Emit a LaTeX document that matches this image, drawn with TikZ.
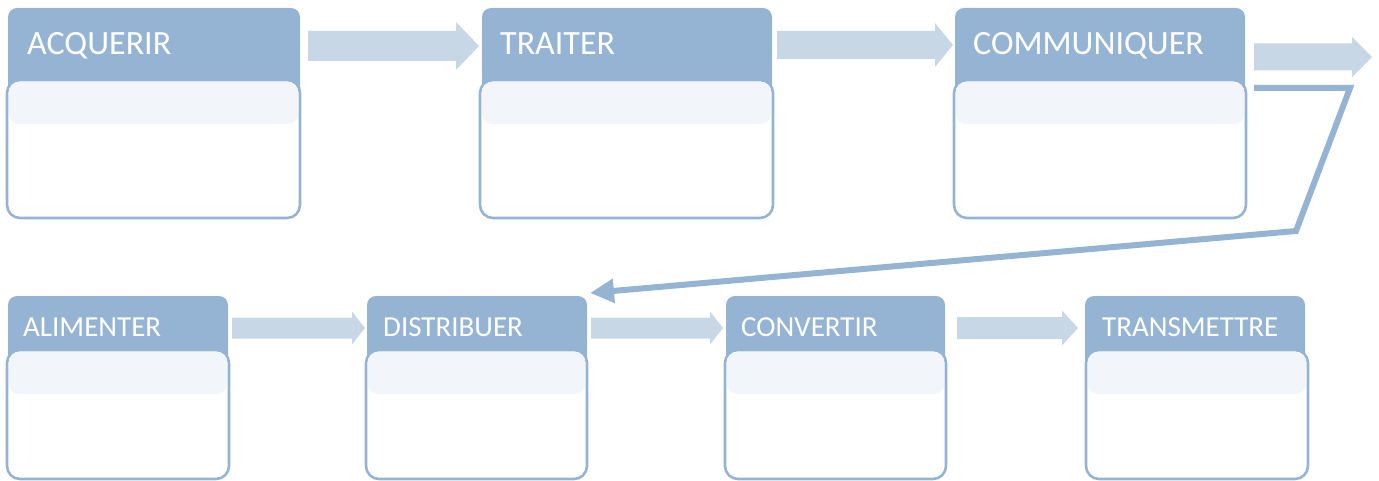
\documentclass[tikz,border=0pt]{standalone}
\usepackage{fontspec}
\setmainfont{Carlito}
\usetikzlibrary{calc,arrows.meta}

\definecolor{hdr}{HTML}{95B4D3}
\definecolor{band}{HTML}{F2F5F9}
\definecolor{flow}{HTML}{C7D7E6}

\tikzset{
  hdrbox/.style={fill=hdr, draw=none, rounded corners=9pt, inner sep=0pt, outer sep=0pt, anchor=north west},
  bodybox/.style={fill=white, draw=hdr, line width=2.6pt, rounded corners=13pt, inner sep=0pt, outer sep=0pt, anchor=north west},
  bandbox/.style={fill=band, draw=none, rounded corners=10pt, inner sep=0pt, outer sep=0pt, anchor=north west},
  bigtitle/.style={text=white, inner sep=0pt, anchor=base west, font=\fontsize{34}{40}\selectfont},
  smalltitle/.style={text=white, inner sep=0pt, anchor=base west, font=\fontsize{29}{34}\selectfont},
  loopback/.style={draw=hdr, line width=6pt, line join=miter, -{Triangle[length=24pt,width=23pt]}}
}

% block arrow: start, end, half body height, half head height, head length
\newcommand\flowarrow[5]{%
  \fill[flow] let \p1=(#1), \p2=(#2) in
    (\x1,\y1+#3) -- (\x2-#5,\y1+#3) -- (\x2-#5,\y1+#4) -- (\x2,\y1)
    -- (\x2-#5,\y1-#4) -- (\x2-#5,\y1-#3) -- (\x1,\y1-#3) -- cycle;}

% card: name, left, width, top, body top, bottom, header width, header left
\newcommand\card[8]{%
  \node[hdrbox, minimum width=#7pt, minimum height={(#5-#4+25)*1pt}] (h#1) at (#8,#4) {};
  \node[bodybox, minimum width=#3pt, minimum height={(#6-#5)*1pt}] (b#1) at (#2,#5) {};
  \node[bandbox, minimum width={(#3-4)*1pt}, minimum height=42pt] (s#1) at ({#2+2},{#5+2}) {};
}

\begin{document}
\begin{tikzpicture}[x=1pt,y=-1pt]
\useasboundingbox (0,0) rectangle (1379,481);

% top row
\card{1}{7}{293}{8}{80}{218}{292}{8}
\card{2}{480}{293}{8}{80}{218}{290}{482}
\card{3}{954}{292}{8}{80}{218}{290}{955}
\node[bigtitle] (t1) at (27,55) {ACQUERIR};
\node[bigtitle] (t2) at (500,55) {TRAITER};
\node[bigtitle] (t3) at (973,55) {COMMUNIQUER};

% bottom row
\card{4}{7}{222}{296}{350}{479}{220}{8}
\card{5}{366}{221}{296}{350}{479}{220}{367}
\card{6}{725}{221}{296}{350}{479}{219}{726}
\card{7}{1086}{222}{296}{350}{479}{220}{1085}
\node[smalltitle] (t4) at (23,336) {ALIMENTER};
\node[smalltitle] (t5) at (383,336) {DISTRIBUER};
\node[smalltitle] (t6) at (741,336) {CONVERTIR};
\node[smalltitle] (t7) at (1102,336) {TRANSMETTRE};

% flow arrows between the cards
\coordinate (f1a) at (308,46);  \coordinate (f1b) at (479,46);
\coordinate (f2a) at (777,45);  \coordinate (f2b) at (953,45);
\coordinate (f3a) at (1254,57); \coordinate (f3b) at (1372,57);
\coordinate (f4a) at (232,328); \coordinate (f4b) at (365,328);
\coordinate (f5a) at (591,328); \coordinate (f5b) at (723,328);
\coordinate (f6a) at (957,328); \coordinate (f6b) at (1078,328);
\flowarrow{f1a}{f1b}{15}{24}{23}
\flowarrow{f2a}{f2b}{14}{22}{18}
\flowarrow{f3a}{f3b}{13.5}{20}{20}
\flowarrow{f4a}{f4b}{10.5}{16.5}{13}
\flowarrow{f5a}{f5b}{10.5}{16.5}{13}
\flowarrow{f6a}{f6b}{11}{17.5}{16}

% return path from the first row to the second
\coordinate (r0) at (1254,88);
\coordinate (r1) at (1350,88);
\coordinate (r2) at (1296,231);
\draw[loopback] (r0) -- (r1) -- (r2) -- ($(h5.north east)+(3,-3)$);
\end{tikzpicture}
\end{document}
